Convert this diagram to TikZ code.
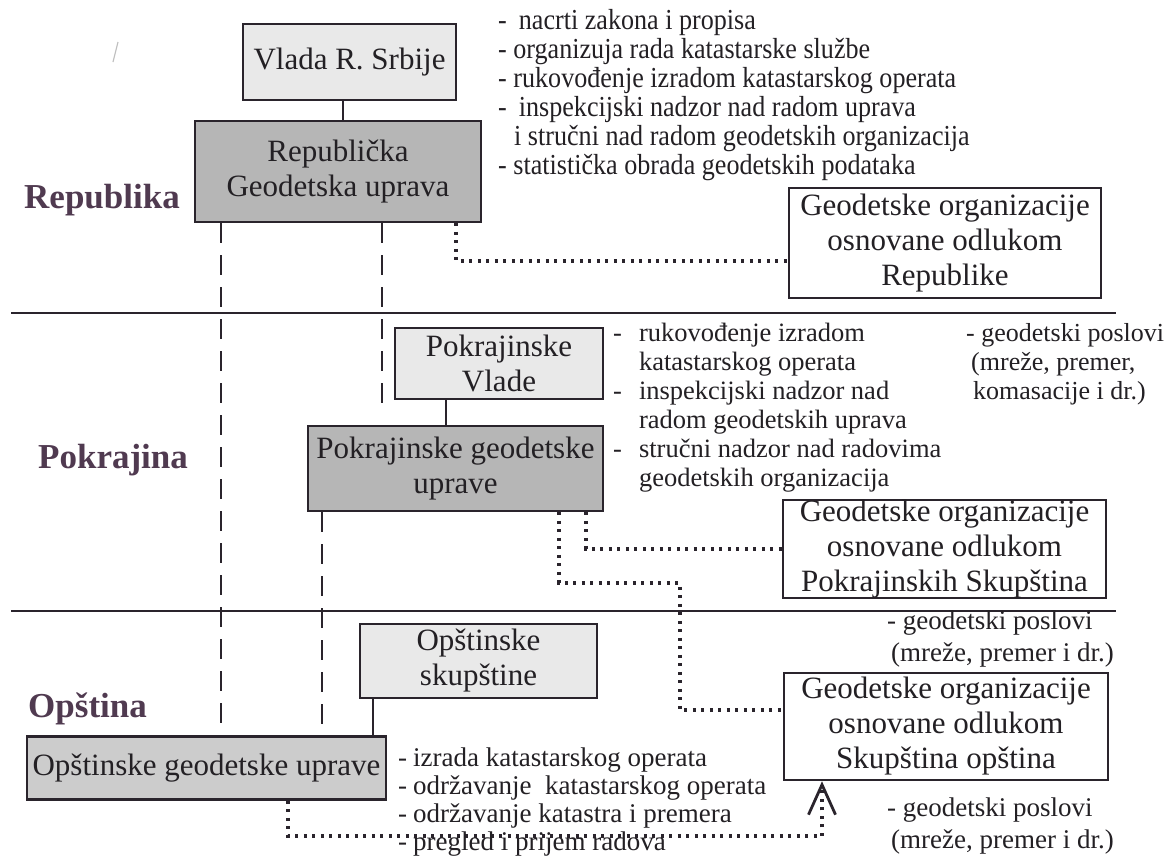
\documentclass[tikz,border=0pt]{standalone}
\usepackage{fontspec}
\setmainfont{Liberation Serif}
\newfontfamily\condfont[FakeStretch=0.9]{Liberation Serif}
\usetikzlibrary{arrows.meta}
\definecolor{labc}{RGB}{80,58,80}
\definecolor{ink}{RGB}{42,36,44}
\definecolor{txt}{RGB}{35,32,36}
\definecolor{lightbox}{RGB}{233,233,233}
\definecolor{darkbox}{RGB}{182,182,182}
\definecolor{midbox}{RGB}{204,204,204}
\tikzset{
  box/.style={draw=ink, line width=2.5pt, inner sep=0pt, align=center, text=txt,
    font=\fontsize{31}{35}\selectfont},
  lightb/.style={box, fill=lightbox},
  darkb/.style={box, fill=darkbox},
  midb/.style={box, fill=midbox},
  whiteb/.style={box, fill=white},
  level/.style={font=\fontsize{35}{40}\selectfont\bfseries, text=labc, inner sep=0pt, anchor=west},
  solidcon/.style={draw=ink, line width=2.5pt},
  dashcon/.style={draw=ink, line width=2.5pt, dash pattern=on 20pt off 12pt},
  dotcon/.style={draw=ink, line width=3.2pt, dash pattern=on 3pt off 5.5pt},
  sepline/.style={draw=ink, line width=2.8pt},
  listtxt/.style={inner sep=0pt, anchor=north west, text=txt, align=left},
}
\begin{document}
\begin{tikzpicture}[x=1pt,y=-1pt]
\useasboundingbox (0,0) rectangle (1171,855);
\fill[white] (0,0) rectangle (1171,855);

% faint stray mark
\draw[black!25, line width=1.2pt] (113,62) -- (118,42);

% level separators
\coordinate (s1a) at (11,313); \coordinate (s1b) at (1116,313);
\coordinate (s2a) at (11,611); \coordinate (s2b) at (1116,611);
\draw[sepline] (s1a) -- (s1b);
\draw[sepline] (s2a) -- (s2b);

% boxes
\node[lightb, minimum width=213pt, minimum height=76pt] (vlada) at (349.5,62) {Vlada R. Srbije};
\node[darkb, minimum width=286pt, minimum height=101pt] (rep) at (338,171.5) {Republička\\Geodetska uprava};
\node[whiteb, minimum width=312pt, minimum height=110pt] (orgR) at (945,243) {Geodetske organizacije\\osnovane odlukom\\Republike};
\node[lightb, minimum width=208pt, minimum height=71pt] (pvlada) at (499,363.5) {Pokrajinske\\Vlade};
\node[darkb, minimum width=295pt, minimum height=85pt] (pgu) at (455.5,468.5) {Pokrajinske geodetske\\uprave};
\node[whiteb, minimum width=323pt, minimum height=98pt] (orgP) at (944.5,549) {Geodetske organizacije\\osnovane odlukom\\Pokrajinskih Skupština};
\node[lightb, minimum width=237pt, minimum height=74pt] (oskup) at (478.5,661) {Opštinske\\skupštine};
\node[midb, minimum width=359pt, minimum height=63pt] (ogu) at (206.5,768) {Opštinske geodetske uprave};
\node[whiteb, minimum width=324pt, minimum height=107pt] (orgO) at (946,726.5) {Geodetske organizacije\\osnovane odlukom\\Skupština opština};

% level labels
\node[level] (lrep) at (24,200) {Republika};
\node[level] (lpok) at (38,460) {Pokrajina};
\node[level] (lops) at (28,709) {Opština};

% solid connectors
\coordinate (c1) at (343,0);
\coordinate (c2) at (446,0);
\coordinate (c3) at (373,0);
\draw[solidcon] (c1 |- vlada.south) -- (c1 |- rep.north);
\draw[solidcon] (c2 |- pvlada.south) -- (c2 |- pgu.north);
\draw[solidcon] (c3 |- oskup.south) -- (c3 |- ogu.north);

% dashed connectors
\coordinate (d1) at (221,0);
\coordinate (d2) at (382,406);
\coordinate (d3) at (322,0);
\draw[dashcon] (d1 |- rep.south) -- (d1 |- ogu.north);
\draw[dashcon] (d2 |- rep.south) -- (d2);
\draw[dashcon] (d3 |- pgu.south) -- (d3 |- ogu.north);

% dotted connectors
\coordinate (ra) at (456,261);
\draw[dotcon] (ra |- rep.south) -- (ra) -- (orgR.west |- ra);
\coordinate (pb) at (586,0);
\draw[dotcon] (pb |- pgu.south) -- (pb |- orgP.west) -- (orgP.west);
\coordinate (pc1) at (559,583);
\coordinate (pc2) at (680,583);
\coordinate (pc3) at (680,710);
\draw[dotcon] (pc1 |- pgu.south) -- (pc1) -- (pc2) -- (pc3) -- (orgO.west |- pc3);
\coordinate (oc1) at (288,836);
\coordinate (oc2) at (822,836);
\draw[dotcon, -{Straight Barb[length=30pt, width=27pt, line width=2.8pt]}]
  (oc1 |- ogu.south) -- (oc1) -- (oc2) -- (oc2 |- orgO.south);

% text lists
\node[listtxt, font=\condfont\fontsize{29}{29}\selectfont] (trep) at (498,9) {%
\begin{tabular}{@{}l@{}}
-\hspace{12pt}nacrti zakona i propisa\\
- organizuja rada katastarske službe\\
- rukovođenje izradom katastarskog operata\\
-\hspace{12pt}inspekcijski nadzor nad radom uprava\\
\hspace*{16pt}i stručni nad radom geodetskih organizacija\\
- statistička obrada geodetskih podataka
\end{tabular}};

\node[listtxt, font=\fontsize{26.5}{29}\selectfont] (tpok) at (613,321) {%
\begin{tabular}{@{}l@{\hspace{17pt}}l@{}}
- & rukovođenje izradom\\
  & katastarskog operata\\
- & inspekcijski nadzor nad\\
  & radom geodetskih uprava\\
- & stručni nadzor nad radovima\\
  & geodetskih organizacija
\end{tabular}};

\node[listtxt, font=\fontsize{26}{29}\selectfont] (tpok2) at (966,321) {%
\begin{tabular}{@{}l@{}}
- geodetski poslovi\\
\hspace*{5pt}(mreže, premer,\\
\hspace*{7pt}komasacije i dr.)
\end{tabular}};

\node[listtxt, font=\fontsize{27}{32}\selectfont] (tops1) at (887,607) {%
\begin{tabular}{@{}l@{}}
- geodetski poslovi\\
\hspace*{4pt}(mreže, premer i dr.)
\end{tabular}};

\node[listtxt, font=\fontsize{27}{32}\selectfont] (tops2) at (887,794) {%
\begin{tabular}{@{}l@{}}
- geodetski poslovi\\
\hspace*{4pt}(mreže, premer i dr.)
\end{tabular}};

\node[listtxt, font=\fontsize{27}{28}\selectfont] (tops3) at (398,747) {%
\begin{tabular}{@{}l@{\hspace{6pt}}l@{}}
- & izrada katastarskog operata\\
- & održavanje\ \ katastarskog operata\\
- & održavanje katastra i premera\\
- & pregled i prijem radova
\end{tabular}};
\end{tikzpicture}
\end{document}
